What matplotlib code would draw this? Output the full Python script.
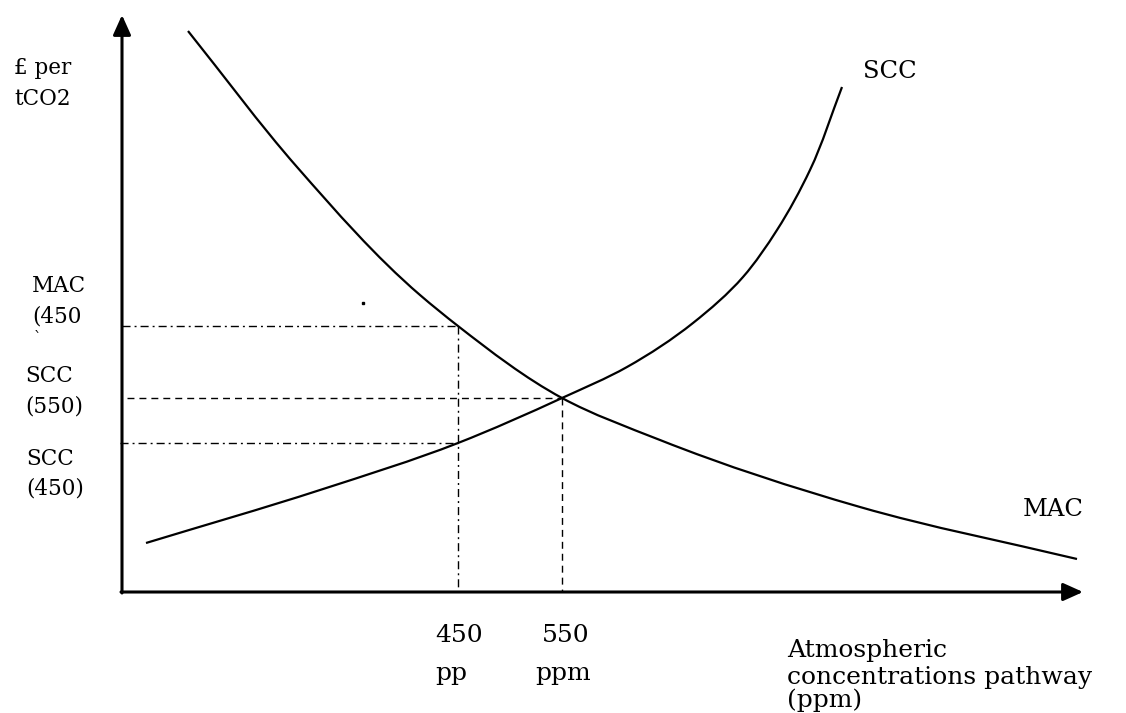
import matplotlib
matplotlib.use("Agg")
import matplotlib.pyplot as plt
import numpy as np
from matplotlib.path import Path
from matplotlib.patches import PathPatch

# Diagram units: origin at the axes corner
mac_x = [66, 175, 298, 336, 440, 538, 738, 955]
mac_y = [561, 425, 297, 266, 194, 152, 85, 33]

scc_x = [24, 198, 336, 440, 505, 571, 621, 655, 688, 720]
scc_y = [49, 102, 149, 194, 225, 269, 315, 362, 422, 505]

x450, x550 = 336, 440
mac450, scc550, scc450 = 266, 194, 149

FONT = "DejaVu Serif"
fig = plt.figure(figsize=(11.26, 7.13), dpi=100)
ax = fig.add_axes([0, 0, 1, 1])
ax.set_xlim(-122, 1004)
ax.set_ylim(-121, 592)
ax.axis("off")


def smooth_path(xs, ys):
    """Cubic Bezier path through every given point (chord-length tangents)."""
    p = np.column_stack([xs, ys]).astype(float)
    n = len(p)
    seg = np.linalg.norm(np.diff(p, axis=0), axis=1)
    t = np.concatenate([[0.0], np.cumsum(seg)])
    m = np.zeros_like(p)
    for i in range(n):
        if i == 0:
            m[i] = (p[1] - p[0]) / (t[1] - t[0])
        elif i == n - 1:
            m[i] = (p[-1] - p[-2]) / (t[-1] - t[-2])
        else:
            # weighted average of neighbouring slopes
            d0 = (p[i] - p[i - 1]) / (t[i] - t[i - 1])
            d1 = (p[i + 1] - p[i]) / (t[i + 1] - t[i])
            h0, h1 = t[i] - t[i - 1], t[i + 1] - t[i]
            m[i] = (h1 * d0 + h0 * d1) / (h0 + h1)
    verts = [p[0]]
    codes = [Path.MOVETO]
    for i in range(n - 1):
        h = t[i + 1] - t[i]
        verts += [p[i] + m[i] * h / 3.0, p[i + 1] - m[i + 1] * h / 3.0, p[i + 1]]
        codes += [Path.CURVE4] * 3
    return Path(verts, codes)


# axes with arrowheads
arrow_style = "-|>,head_length=0.8,head_width=0.36"
ax.annotate("", xy=(0, 577), xytext=(0, -1),
            arrowprops=dict(arrowstyle=arrow_style, lw=2.2, color="black",
                            mutation_scale=15, shrinkA=0, shrinkB=0))
ax.annotate("", xy=(961, 0), xytext=(-1, 0),
            arrowprops=dict(arrowstyle=arrow_style, lw=2.2, color="black",
                            mutation_scale=15, shrinkA=0, shrinkB=0))

# curves
for xs, ys in ((mac_x, mac_y), (scc_x, scc_y)):
    ax.add_patch(PathPatch(smooth_path(xs, ys), fill=False, edgecolor="black",
                           lw=1.6, capstyle="butt"))

# reference lines
dashdot = (0, (5.8, 2.9, 1.4, 2.9))
dashed = (0, (5.0, 3.6))
ax.plot([0, x450], [mac450, mac450], color="black", lw=1.0, linestyle=dashdot)
ax.plot([x450, x450], [mac450, 0], color="black", lw=1.0, linestyle=dashdot)
ax.plot([-2, x450], [scc450, scc450], color="black", lw=1.0, linestyle=dashdot)
ax.plot([5, x550], [scc550, scc550], color="black", lw=1.0, linestyle=dashed)
ax.plot([x550, x550], [scc550, 0], color="black", lw=1.0, linestyle=dashed)

# stray dot
ax.plot([241], [289], marker="s", markersize=1.6, color="black")

small = 15.5
big = 18.0


def txt(x, y, s, size):
    ax.text(x, y, s, fontsize=size, family=FONT, ha="left", va="baseline")


txt(-108, 518, "£ per", small)
txt(-108, 487, "tCO2", small)
txt(-90, 300, "MAC", small)
txt(-90, 270, "(450", small)
txt(-88, 250, "`", small * 0.7)
txt(-97, 210, "SCC", small)
txt(-97, 180, "(550)", small)
txt(-96, 127, "SCC", small)
txt(-96, 97, "(450)", small)

txt(313, -50, "450", big)
txt(313, -88, "pp", big)
txt(420, -50, "550", big)
txt(413, -88, "ppm", big)

txt(741, 514, "SCC", 17.5)
txt(901, 76, "MAC", 17.5)

txt(665, -65, "Atmospheric", big)
txt(665, -92, "concentrations pathway", big)
txt(665, -115, "(ppm)", big)

fig.savefig("out.png", dpi=100)
